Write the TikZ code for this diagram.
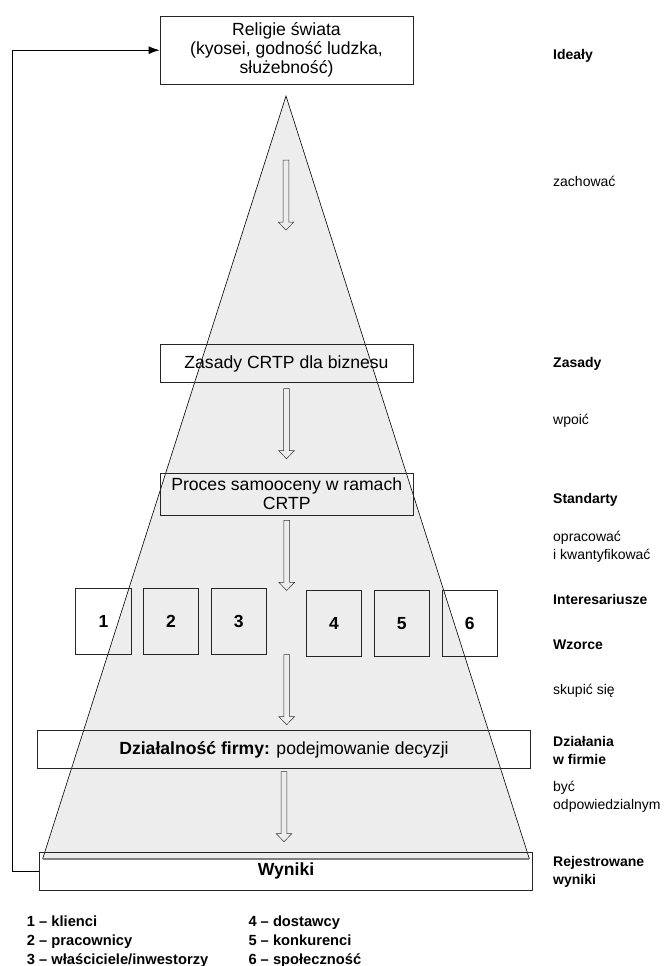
\documentclass[tikz,border=0pt]{standalone}
\usepackage{fontspec}
\setmainfont{Liberation Sans}
\usepackage{tikz}
\usetikzlibrary{arrows.meta,calc}

\newcommand\hollowdown[1]{\draw[line width=0.5pt, black!80] (#1) ++(-2.8,0) -- ++(0,62) -- ++(-5,0) -- ++(7.8,8) -- ++(7.8,-8) -- ++(-5,0) -- ++(0,-62) -- cycle;}

\begin{document}
\begin{tikzpicture}[x=1pt, y=-1pt,
    box/.style={draw=black!85, line width=0.8pt, minimum width=253pt, inner sep=2pt, align=center, font=\fontsize{17.6}{19}\selectfont},
    wide/.style={box, minimum width=493.4pt, minimum height=37.6pt},
    num/.style={draw=black!85, line width=0.8pt, minimum width=55.3pt, minimum height=66pt, font=\bfseries\fontsize{17.5}{19}\selectfont},
    side/.style={anchor=west, align=left, inner sep=0pt, font=\fontsize{14}{17.5}\selectfont},
    sidebold/.style={side, font=\bfseries\fontsize{14}{17.5}\selectfont},
    key/.style={anchor=west, align=left, inner sep=0pt, font=\bfseries\fontsize{14.7}{19}\selectfont}
    ]
    \useasboundingbox (0,0) rectangle (671,966);
    \coordinate (apex) at (286,96);
    \coordinate (bl) at (42.6,859);
    \coordinate (br) at (529.4,859);
    \fill[black!7] (apex) -- (bl) -- (br) -- cycle;
    \draw[line width=0.6pt] (bl) -- (apex) -- (br);
    \draw[gray, line width=1.2pt] (bl) -- (br);

    \node[box, minimum height=68.3pt] (relig) at (286.5,50.2) {Religie świata\\(kyosei, godność ludzka,\\służebność)};
    \node[box, minimum height=37.6pt] (zasady) at (286.5,363.5) {Zasady CRTP dla biznesu};
    \node[box, minimum height=41.7pt] (proces) at (286.7,494.2) {Proces samooceny w ramach\\CRTP};
    \foreach \n/\x/\y in {1/103.4/621.3, 2/171/621.3, 3/238.8/621.3, 4/334/623.3, 5/401.7/623.3, 6/469.7/623.3}
      \node[num] (b\n) at (\x,\y) {\n};
    \node[wide] (dzial) at (284,749.5) {\textbf{Działalność firmy:} podejmowanie decyzji};
    \node[wide, minimum height=37.3pt, font=\bfseries\fontsize{17.6}{19}\selectfont] (wyniki) at (286,871.4) {Wyniki};

    \coordinate (a1) at (286,160);
    \hollowdown{a1}
    \hollowdown{$(zasady.south)+(0,6)$}
    \hollowdown{$(proces.south)+(0,5)$}
    \hollowdown{b3.south -| proces.south}
    \hollowdown{$(dzial.south)+(0,3)$}

    \draw[line width=0.9pt, -{Latex[length=11pt,width=8pt]}] (wyniki.west) -- ++(-26,0) |- (relig.west);

    \node[sidebold] (ideal) at (553,56) {Ideały};
    \node[side] (zach) at (553,181.7) {zachować};
    \node[sidebold] (zas) at (553,364) {Zasady};
    \node[side] (wpoic) at (553,420.7) {wpoić};
    \node[sidebold] (stand) at (553,500) {Standarty};
    \node[side] (oprac) at (553,547) {opracować\\i kwantyfikować};
    \node[sidebold] (inter) at (553,599.3) {Interesariusze};
    \node[sidebold] (wzor) at (553,645) {Wzorce};
    \node[side] (skup) at (553,690.7) {skupić się};
    \node[sidebold] (dzia) at (553,750.4) {Działania\\w firmie};
    \node[side] (byc) at (553,796.9) {być\\odpowiedzialnym};
    \node[sidebold] (rej) at (553,871.7) {Rejestrowane\\wyniki};

    \node[key] (key1) at (26.7,941.7) {1 – klienci\\2 – pracownicy\\3 – właściciele/inwestorzy};
    \node[key] (key2) at (248.3,941.7) {4 – dostawcy\\5 – konkurenci\\6 – społeczność};
  \end{tikzpicture}
\end{document}
